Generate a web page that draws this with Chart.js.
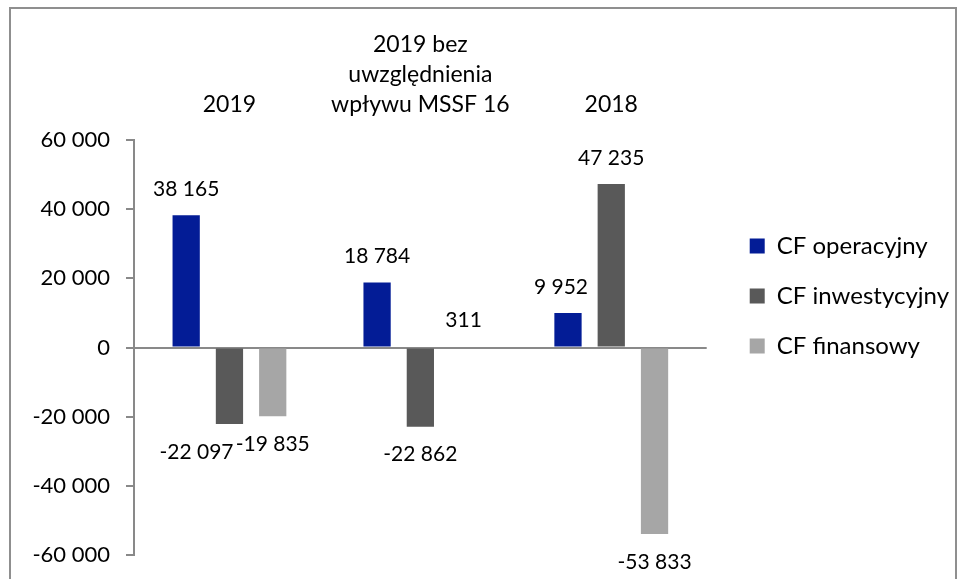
<!DOCTYPE html>
<html>
<head>
<meta charset="utf-8">
<script src="https://cdn.jsdelivr.net/npm/chart.js@4"></script>
<style>
  body { margin: 0; background: #fff; }
  #frame { position: absolute; left: 9px; top: 7px; width: 948px; height: 600px; border: 2px solid #8f8f8f; box-sizing: border-box; }
  #wrap { position: absolute; left: 0; top: 0; width: 960px; height: 579px; }
</style>
</head>
<body>
<div id="frame"></div>
<div id="wrap"><canvas id="chart" width="960" height="579"></canvas></div>
<script>
// data
const categories = [['2019'], ['2019 bez', 'uwzględnienia', 'wpływu MSSF 16'], ['2018']];
const seriesNames = ['CF operacyjny', 'CF inwestycyjny', 'CF finansowy'];
const cfOperacyjny = [38165, 18784, 9952];
const cfInwestycyjny = [-22097, -22862, 47235];
const cfFinansowy = [-19835, 311, -53833];
const yTicks = [-60000, -40000, -20000, 0, 20000, 40000, 60000];

const FONT = 'Lato, "Open Sans", sans-serif';

function fmt(v) {
    return String(v).replace(/\B(?=(\d{3})+(?!\d))/g, ' ');
}

// small horizontal nudges so labels do not overlap (like in Excel)
const labelNudge = { '0-1': -33, '1-0': 0, '2-0': -7 };

const valueLabels = {
    id: 'valueLabels',
    afterDatasetsDraw(chart) {
        const ctx = chart.ctx;
        ctx.save();
        ctx.font = '21px ' + FONT;
        ctx.fillStyle = '#000';
        ctx.textAlign = 'center';
        ctx.textBaseline = 'middle';
        chart.data.datasets.forEach((ds, di) => {
            chart.getDatasetMeta(di).data.forEach((bar, i) => {
                const v = ds.data[i];
                const nudge = labelNudge[i + '-' + di] || 0;
                const y = v >= 0 ? bar.y - 26 : bar.y + 28;
                ctx.fillText(fmt(v), bar.x + nudge, y);
            });
        });
        ctx.restore();
    }
};

// push the legend a bit away from the plot
const legendGap = {
    id: 'legendGap',
    afterLayout(chart) {
        if (chart.legend) {
            chart.legend.left += 17;
            chart.legend.right += 17;
        }
    }
};

const colors = ['#031c96', '#595959', '#a6a6a6'];
const seriesData = [cfOperacyjny, cfInwestycyjny, cfFinansowy];

new Chart(document.getElementById('chart'), {
    type: 'bar',
    data: {
        labels: categories,
        datasets: seriesNames.map((name, k) => ({
            label: name,
            data: seriesData[k],
            backgroundColor: colors[k],
            categoryPercentage: 0.68,
            barPercentage: 0.63
        }))
    },
    options: {
        responsive: false,
        animation: false,
        layout: { padding: { top: 10, bottom: 19, left: 0, right: 18 } },
        scales: {
            x: {
                position: 'top',
                grid: { display: false, drawTicks: false },
                border: { display: false },
                ticks: {
                    padding: 20,
                    color: '#000',
                    font: { family: FONT, size: 23, lineHeight: 1.3 }
                }
            },
            y: {
                min: -60000,
                max: 60000,
                afterFit(scale) { scale.width = 134; },
                afterBuildTicks(scale) { scale.ticks = yTicks.map(v => ({ value: v })); },
                border: { display: true, color: '#898989', width: 2 },
                grid: {
                    drawOnChartArea: true,
                    tickLength: 8,
                    tickColor: '#898989',
                    lineWidth: 2,
                    color: c => c.tick && c.tick.value === 0 ? '#898989' : 'rgba(0,0,0,0)'
                },
                ticks: {
                    padding: 16,
                    color: '#000',
                    font: { family: FONT, size: 22, lineHeight: 0.7 },
                    callback: v => fmt(v)
                }
            }
        },
        plugins: {
            legend: {
                position: 'right',
                align: 'start',
                title: { display: true, text: '', padding: { top: 188, bottom: 0 }, font: { size: 10, lineHeight: 1 } },
                labels: {
                    boxWidth: 15,
                    boxHeight: 15,
                    padding: 26,
                    color: '#000',
                    font: { family: FONT, size: 24 }
                }
            },
            tooltip: { enabled: false }
        }
    },
    plugins: [valueLabels, legendGap]
});
</script>
</body>
</html>
